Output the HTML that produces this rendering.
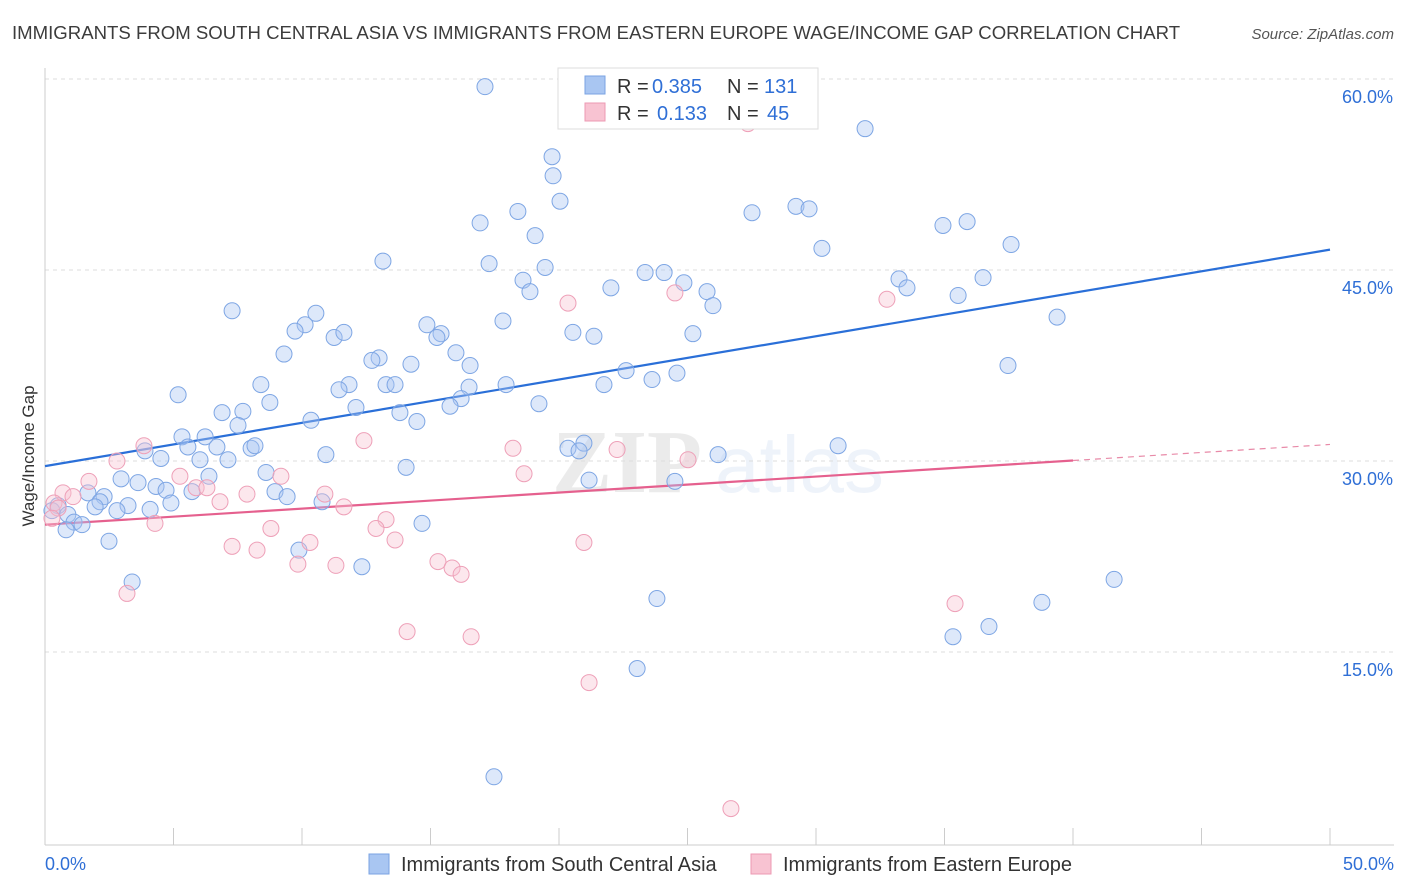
<!DOCTYPE html>
<html><head><meta charset="utf-8">
<style>
body{margin:0;background:#fff;font-family:"Liberation Sans",sans-serif;}
svg{display:block}
</style></head>
<body>
<svg id="chart" width="1406" height="892" xmlns="http://www.w3.org/2000/svg">
<text x="12" y="39" font-size="18.6" fill="#3c3c3c">IMMIGRANTS FROM SOUTH CENTRAL ASIA VS IMMIGRANTS FROM EASTERN EUROPE WAGE/INCOME GAP CORRELATION CHART</text>
<text x="1394" y="39" font-size="15" fill="#555" font-style="italic" text-anchor="end">Source: ZipAtlas.com</text>
<g opacity="0.12">
<text x="552" y="492" font-size="90" font-family="Liberation Serif,serif" fill="#666" font-weight="bold">ZIP</text>
<text x="715" y="492" font-size="80" fill="#7aa0d8">atlas</text>
</g>
<g id="grid"></g>
<g id="axes"></g>
<g id="lines"></g>
<g id="pts"></g>
<text transform="translate(34,456) rotate(-90)" font-size="17" fill="#333" text-anchor="middle">Wage/Income Gap</text>
<g>
<rect x="558" y="68" width="260" height="61" fill="#fff" stroke="#ddd"/>
<g>
<rect x="585" y="76" width="20" height="18" fill="#a9c6f2" stroke="#7aa3e3"/>
<text x="617" y="93" font-size="20" fill="#333">R = </text><text x="652" y="93" font-size="20" fill="#2f6fd6">0.385</text>
<text x="727" y="93" font-size="20" fill="#333">N = </text><text x="764" y="93" font-size="20" fill="#2f6fd6">131</text>
</g>
<g>
<rect x="585" y="103" width="20" height="18" fill="#f8c3d2" stroke="#ec9ab3"/>
<text x="617" y="120" font-size="20" fill="#333">R = </text><text x="657" y="120" font-size="20" fill="#2f6fd6">0.133</text>
<text x="727" y="120" font-size="20" fill="#333">N = </text><text x="767" y="120" font-size="20" fill="#2f6fd6">45</text>
</g>
</g>
<g>
<rect x="369" y="854" width="20" height="20" fill="#a9c6f2" stroke="#7aa3e3"/>
<text x="401" y="871" font-size="20" fill="#333">Immigrants from South Central Asia</text>
<rect x="751" y="854" width="20" height="20" fill="#f8c3d2" stroke="#ec9ab3"/>
<text x="783" y="871" font-size="20" fill="#333">Immigrants from Eastern Europe</text>
</g>
</svg>
<script>
const yTicks=[15,30,45,60];
const yTickLabels=["15.0%","30.0%","45.0%","60.0%"];
const xTicks=[0,5,10,15,20,25,30,35,40,45,50];
const xEndLabels=["0.0%","50.0%"];
const blueX=[17.12,19.73,19.77,20.04,31.91,18.40,16.93,19.07,27.51,29.22,29.73,34.94,35.88,37.59,30.23,13.15,17.28,19.46,18.60,18.87,23.35,24.09,24.86,22.02,25.76,25.99,33.23,33.54,35.53,36.50,39.38,7.28,10.54,10.12,9.73,11.25,11.63,14.86,15.41,15.25,17.82,20.54,21.36,25.21,9.30,15.99,13.00,12.72,14.24,16.54,22.61,24.59,23.62,21.75,37.47,8.40,5.18,11.83,11.44,13.27,13.62,16.50,17.94,16.19,15.76,19.22,8.75,7.70,6.89,12.10,13.81,14.47,10.35,7.51,5.33,6.23,5.56,6.69,8.02,8.17,3.89,4.51,6.03,7.12,10.93,14.05,20.35,20.97,20.78,26.19,30.86,8.60,6.38,2.96,3.62,4.32,4.71,5.72,8.95,9.42,21.17,24.51,1.67,2.30,2.14,3.23,4.90,4.09,1.95,2.80,10.78,0.51,0.27,0.89,1.13,1.44,0.82,2.49,9.88,12.33,14.67,3.39,23.81,41.60,38.79,35.33,36.73,23.04,17.47];
const blueY=[59.4,53.9,52.4,50.4,56.1,49.6,48.7,47.7,49.5,50.0,49.8,48.5,48.8,47.0,46.7,45.7,45.5,45.2,44.2,43.3,44.8,44.8,44.0,43.6,43.3,42.2,44.3,43.6,43.0,44.4,41.3,41.8,41.6,40.7,40.2,39.7,40.1,40.7,40.0,39.7,41.0,40.1,39.8,40.0,38.4,38.5,38.1,37.9,37.6,37.5,37.1,36.9,36.4,36.0,37.5,36.0,35.2,36.0,35.6,36.0,36.0,35.8,36.0,34.9,34.3,34.5,34.6,33.9,33.8,34.2,33.8,33.1,33.2,32.8,31.9,31.9,31.1,31.1,31.0,31.2,30.8,30.2,30.1,30.1,30.5,29.5,31.0,31.4,30.8,30.5,31.2,29.1,28.8,28.6,28.3,28.0,27.7,27.6,27.6,27.2,28.5,28.4,27.5,27.2,26.8,26.5,26.7,26.2,26.4,26.1,26.8,26.5,26.1,25.8,25.2,25.0,24.6,23.7,23.0,21.7,25.1,20.5,19.2,20.7,18.9,16.2,17.0,13.7,5.2];
const pinkX=[27.35,20.35,24.51,32.76,3.85,2.80,12.41,18.21,22.26,25.02,1.71,5.25,5.88,6.30,9.18,7.86,6.81,10.89,11.63,0.70,0.35,1.09,4.28,8.79,13.27,12.88,10.31,13.62,7.28,8.25,9.84,11.32,15.29,15.84,16.19,20.97,18.64,3.19,14.09,16.58,21.17,35.41,26.69,0.51,0.27];
const pinkY=[56.5,42.4,43.2,42.7,31.2,30.0,31.6,31.0,30.9,30.1,28.4,28.8,27.9,27.9,28.8,27.4,26.8,27.4,26.4,27.5,26.7,27.2,25.1,24.7,25.4,24.7,23.6,23.8,23.3,23.0,21.9,21.8,22.1,21.6,21.1,23.6,29.0,19.6,16.6,16.2,12.6,18.8,2.7,26.3,25.5];
const blueTrend=[29.6,46.6];
const pinkTrend=[25.0,31.3];
const pinkSolidEnd=40;

const NS="http://www.w3.org/2000/svg";
const X=v=>45+v*25.7;
const Y=v=>843-v*12.733;
function mk(tag,attrs,parent){const e=document.createElementNS(NS,tag);for(const k in attrs)e.setAttribute(k,attrs[k]);parent.appendChild(e);return e;}
const grid=document.getElementById('grid'),axes=document.getElementById('axes'),lines=document.getElementById('lines'),pts=document.getElementById('pts');
yTicks.forEach((t,i)=>{
  const l=mk('line',{x1:45,x2:1394,y1:Y(t),y2:Y(t),stroke:'#dcdcdc','stroke-dasharray':'4,4'},grid);
  
  
  const tx=mk('text',{x:1393,y:Y(t)+24,'font-size':18,fill:'#2f6fd6','text-anchor':'end'},grid);
  tx.textContent=yTickLabels[i];
  
  
});
const ax=mk('line',{x1:45,x2:45,y1:68,y2:845,stroke:'#ccc'},axes);


const bx=mk('line',{x1:45,x2:1394,y1:845,y2:845,stroke:'#ccc'},axes);


xTicks.forEach(t=>{
  const l=mk('line',{x1:X(t),x2:X(t),y1:828,y2:845,stroke:'#ccc'},axes);
  
  
});
[[0,'start',45],[50,'end',1394]].forEach((d,i)=>{
  const tx=mk('text',{x:d[2],y:870,'font-size':18,fill:'#2f6fd6','text-anchor':d[1]},axes);
  tx.textContent=xEndLabels[i];
  
  
});
function dots(xs,ys,fill,stroke,name){
  xs.forEach((x,i)=>{
    const c=mk('circle',{cx:X(x),cy:Y(ys[i]),r:8,fill:fill,'fill-opacity':0.4,stroke:stroke,'stroke-width':1},pts);
    
    
  });
}
dots(blueX,blueY,'#a9c6f2','#7ea6e4','blue-point');
dots(pinkX,pinkY,'#f8c3d2','#eea0b8','pink-point');
const bl=mk('line',{x1:X(0),y1:Y(blueTrend[0]),x2:X(50),y2:Y(blueTrend[1]),stroke:'#2a6fd8','stroke-width':2.2},lines);


const pm=pinkTrend[0]+(pinkTrend[1]-pinkTrend[0])*pinkSolidEnd/50;
const pl=mk('line',{x1:X(0),y1:Y(pinkTrend[0]),x2:X(pinkSolidEnd),y2:Y(pm),stroke:'#e5608e','stroke-width':2.2},lines);


const pd=mk('line',{x1:X(pinkSolidEnd),y1:Y(pm),x2:X(50),y2:Y(pinkTrend[1]),stroke:'#e88aa8','stroke-width':1.2,'stroke-dasharray':'6,5'},lines);


</script>
</body></html>
